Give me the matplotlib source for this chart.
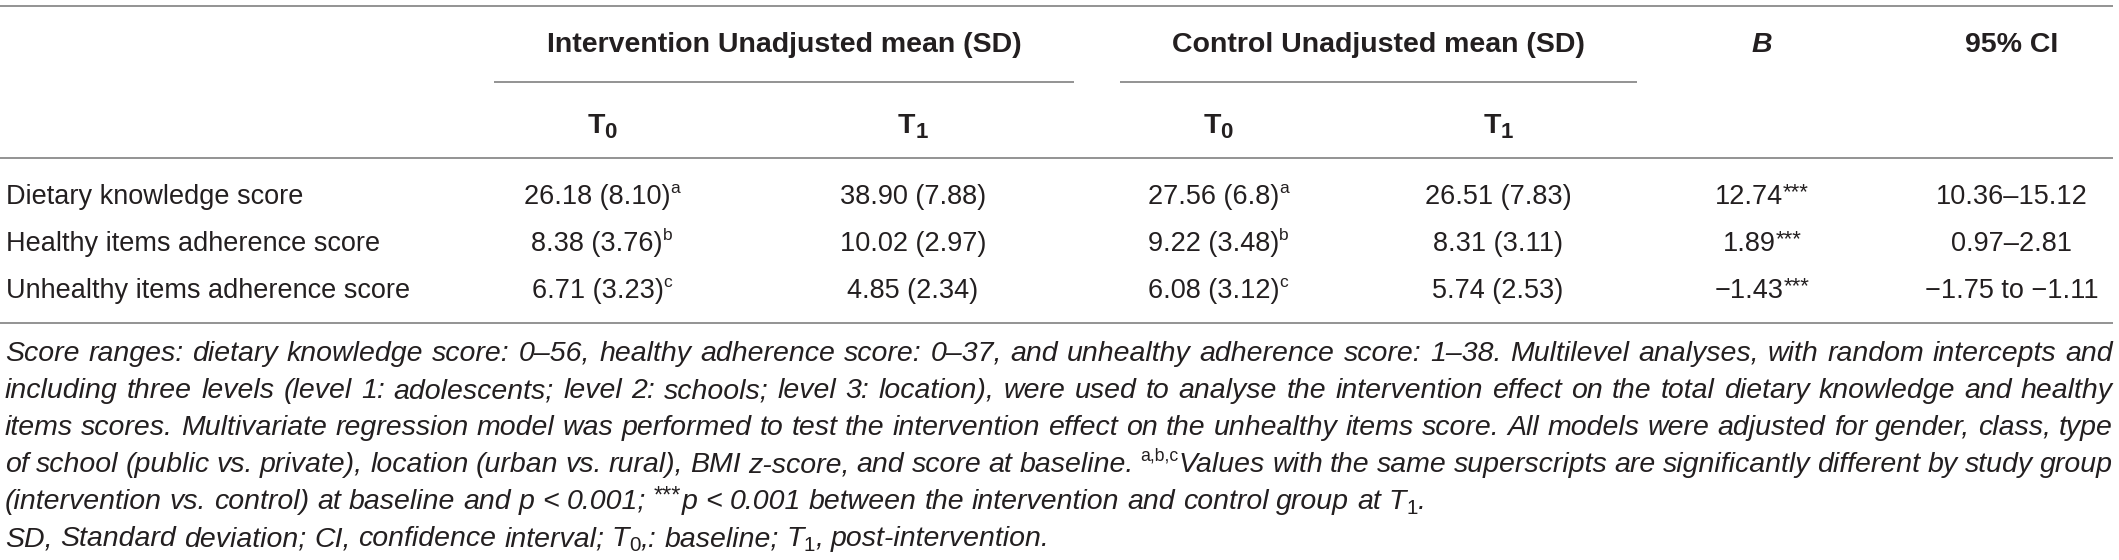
import re
import matplotlib
matplotlib.use("Agg")
import matplotlib.pyplot as plt
from matplotlib import font_manager

# ---------------- data ----------------
row_labels = ["Dietary knowledge score",
              "Healthy items adherence score",
              "Unhealthy items adherence score"]
int_t0 = ["26.18 (8.10)^{a}", "8.38 (3.76)^{b}", "6.71 (3.23)^{c}"]
int_t1 = ["38.90 (7.88)", "10.02 (2.97)", "4.85 (2.34)"]
ctl_t0 = ["27.56 (6.8)^{a}", "9.22 (3.48)^{b}", "6.08 (3.12)^{c}"]
ctl_t1 = ["26.51 (7.83)", "8.31 (3.11)", "5.74 (2.53)"]
b_coef = ["12.74^{***}", "1.89^{***}", "\u22121.43^{***}"]
ci_95 = ["10.36\u201315.12", "0.97\u20132.81", "\u22121.75 to \u22121.11"]

group_headers = ["Intervention Unadjusted mean (SD)", "Control Unadjusted mean (SD)"]
time_headers = ["T_{0}", "T_{1}", "T_{0}", "T_{1}"]
stat_headers = ["B", "95% CI"]

footnote_lines = [
    "Score ranges: dietary knowledge score: 0\u201356, healthy adherence score: 0\u201337, and unhealthy adherence score: 1\u201338. Multilevel analyses, with random intercepts and",
    "including three levels (level 1: adolescents; level 2: schools; level 3: location), were used to analyse the intervention effect on the total dietary knowledge and healthy",
    "items scores. Multivariate regression model was performed to test the intervention effect on the unhealthy items score. All models were adjusted for gender, class, type",
    "of school (public vs. private), location (urban vs. rural), BMI z-score, and score at baseline. ^{a,b,c}Values with the same superscripts are significantly different by study group",
    "(intervention vs. control) at baseline and p < 0.001; ^{***}p < 0.001 between the intervention and control group at T_{1}.",
    "SD, Standard deviation; CI, confidence interval; T_{0},: baseline; T_{1}, post-intervention.",
]
footnote_justified = [True, True, True, True, False, False]

# ---------------- layout ----------------
W, H, DPI = 2119, 560, 100
names = {f.name for f in font_manager.fontManager.ttflist}
FAM = "Liberation Sans" if "Liberation Sans" in names else "DejaVu Sans"
TXT = "#231f20"
LINE = "#8a8a8a"

fig = plt.figure(figsize=(W / DPI, H / DPI), dpi=DPI)
ax = fig.add_axes([0, 0, 1, 1])
ax.set_xlim(0, W)
ax.set_ylim(H, 0)
ax.axis("off")
renderer = fig.canvas.get_renderer()


def parse(s):
    runs = []
    for part in re.split(r"(\^\{[^}]*\}|_\{[^}]*\})", s):
        if not part:
            continue
        if part.startswith("^{"):
            runs.append((part[2:-1], "sup"))
        elif part.startswith("_{"):
            runs.append((part[2:-1], "sub"))
        else:
            runs.append((part, "n"))
    return runs


_wcache = {}


def text_width(text, size, weight, style):
    if not text:
        return 0.0
    key = (text, size, weight, style)
    if key not in _wcache:
        t = ax.text(0, 0, text, fontsize=size, fontweight=weight,
                    fontstyle=style, family=FAM)
        _wcache[key] = t.get_window_extent(renderer).width
        t.remove()
    return _wcache[key]


def run_specs(runs, size, weight, style, sub_scale=0.72, sup_scale=0.64,
              script_style=None):
    px = size * DPI / 72.0
    specs = []
    for txt, kind in runs:
        if kind == "n":
            specs.append((txt, size, style, 0.0))
        elif kind == "sup":
            if set(txt) == {"*"}:
                specs.append((txt, size * 0.82, script_style or style, -0.22 * px))
            else:
                specs.append((txt, size * sup_scale, script_style or style, -0.40 * px))
        else:
            specs.append((txt, size * sub_scale, script_style or style, 0.17 * px))
    return specs


def specs_width(specs, weight):
    return sum(text_width(t, s, weight, st) for t, s, st, _ in specs)


def draw_specs(x, y, specs, weight):
    for t, s, st, dy in specs:
        ax.text(x, y + dy, t, fontsize=s, fontweight=weight, fontstyle=st,
                family=FAM, color=TXT, va="baseline", ha="left")
        x += text_width(t, s, weight, st)


def draw_rich(x, y, s, size, weight="normal", style="normal", ha="left", **kw):
    specs = run_specs(parse(s), size, weight, style, **kw)
    w = specs_width(specs, weight)
    if ha == "center":
        x -= w / 2
    elif ha == "right":
        x -= w
    draw_specs(x, y, specs, weight)


X_LEFT, X_RIGHT = 5, 2113
col_x = [602, 913, 1218, 1498, 1762, 2012]
group_spans = [(494, 1074), (1120, 1637)]
y_top, y_group_line, y_head_line, y_bottom = 6, 82, 158, 323
y_head1, y_head2 = 52, 133
row_y = [204, 251, 298]
foot_y0, foot_dy = 361, 37

HEAD_SIZE = 20.5
BODY_SIZE = 19.5

# rules
for yy in (y_top, y_head_line, y_bottom):
    ax.hlines(yy, X_LEFT - 5, X_RIGHT, color=LINE, lw=1.3)
for x0, x1 in group_spans:
    ax.hlines(y_group_line, x0, x1, color=LINE, lw=1.3)

# headers
for (x0, x1), g in zip(group_spans, group_headers):
    draw_rich((x0 + x1) / 2, y_head1, g, HEAD_SIZE, weight="bold", ha="center")
draw_rich(col_x[4], y_head1, stat_headers[0], HEAD_SIZE, weight="bold",
          style="italic", ha="center")
draw_rich(col_x[5], y_head1, stat_headers[1], HEAD_SIZE, weight="bold", ha="center")
for x, th in zip(col_x[:4], time_headers):
    draw_rich(x, y_head2, th, HEAD_SIZE, weight="bold", ha="center", sub_scale=0.78)

# body
columns = [int_t0, int_t1, ctl_t0, ctl_t1, b_coef, ci_95]
for i, y in enumerate(row_y):
    draw_rich(X_LEFT + 1, y, row_labels[i], BODY_SIZE)
    for x, col in zip(col_x, columns):
        draw_rich(x, y, col[i], BODY_SIZE, ha="center")

# footnote (justified)
avail = X_RIGHT - X_LEFT


def foot_words(line, size):
    words = []
    for w in line.split(" "):
        sp = run_specs(parse(w), size, "normal", "italic", script_style="normal",
                       sup_scale=0.62)
        words.append((sp, specs_width(sp, "normal")))
    return words


def space_w(size):
    return text_width("x x", size, "normal", "italic") - \
        text_width("xx", size, "normal", "italic")


FOOT_SIZE = 26.0
while FOOT_SIZE > 10:
    sw = space_w(FOOT_SIZE)
    widest = 0
    for line in footnote_lines:
        ws = foot_words(line, FOOT_SIZE)
        widest = max(widest, sum(w for _, w in ws) + 0.8 * sw * (len(ws) - 1))
    if widest <= avail:
        break
    FOOT_SIZE -= 0.25

sw = space_w(FOOT_SIZE)
for k, (line, just) in enumerate(zip(footnote_lines, footnote_justified)):
    y = foot_y0 + k * foot_dy
    ws = foot_words(line, FOOT_SIZE)
    total = sum(w for _, w in ws)
    gap = (avail - total) / (len(ws) - 1) if (just and len(ws) > 1) else sw
    x = X_LEFT
    for sp, w in ws:
        draw_specs(x, y, sp, "normal")
        x += w + gap

fig.savefig("out.png", dpi=DPI, facecolor="white")
